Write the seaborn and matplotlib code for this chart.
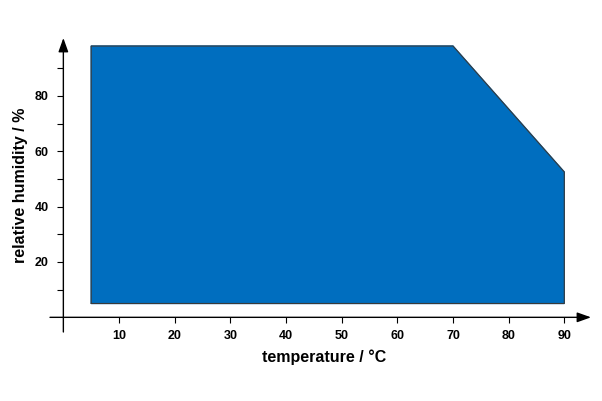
import pandas as pd
import matplotlib
matplotlib.use("Agg")
import matplotlib.pyplot as plt
import seaborn as sns

# operating range corners (temperature in degC, relative humidity in %)
temperature = [5, 5, 70, 90, 90, 5]
humidity = [5, 98, 98, 52.5, 5, 5]

x_ticks = [10, 20, 30, 40, 50, 60, 70, 80, 90]
y_major = [20, 40, 60, 80]
y_minor = [10, 30, 50, 70, 90]

df = pd.DataFrame({"temperature": temperature, "humidity": humidity})

sns.set_theme(style="white")
plt.rcParams["font.family"] = ["Liberation Sans", "DejaVu Sans"]
plt.rcParams["text.color"] = "black"
plt.rcParams["axes.labelcolor"] = "black"
plt.rcParams["xtick.color"] = "black"
plt.rcParams["ytick.color"] = "black"

fig = plt.figure(figsize=(6.02, 4.01), dpi=100)
ax = fig.add_axes([50 / 602, 69 / 401, 541 / 602, 294 / 401])

ax.fill(df["temperature"], df["humidity"], color="#006EBF", zorder=2)
sns.lineplot(data=df, x="temperature", y="humidity", sort=False, estimator=None,
             color="#3a3a3a", linewidth=0.8, ax=ax, zorder=3)

ax.set_xlim(-2.4, 94.8)
ax.set_ylim(-5.3, 100.9)

# axes lines through the origin, with arrow heads
for s in ax.spines.values():
    s.set_color("none")
ax.spines["left"].set_position(("data", 0))
ax.spines["bottom"].set_position(("data", 0))
arrow = dict(arrowstyle="-|>,head_length=0.7,head_width=0.25",
             color="black", lw=1, shrinkA=0, shrinkB=0)
ax.annotate("", xy=(94.8, 0), xytext=(-2.4, 0), arrowprops=arrow)
ax.annotate("", xy=(0, 100.9), xytext=(0, -5.3), arrowprops=arrow)

ax.set_xticks(x_ticks)
ax.set_xticklabels([str(v) for v in x_ticks], fontsize=9, fontweight="bold")
ax.set_yticks(y_major)
ax.set_yticklabels([str(v) for v in y_major], fontsize=9, fontweight="bold")
ax.set_yticks(y_minor, minor=True)
ax.tick_params(axis="x", which="major", direction="out", length=4, width=0.8,
               pad=5, bottom=True)
ax.tick_params(axis="y", which="both", direction="out", length=4.5, width=0.8,
               pad=6, left=True)

ax.set_xlabel("temperature / °C", fontsize=11.5, fontweight="bold")
ax.set_ylabel("relative humidity / %", fontsize=11.5, fontweight="bold")
ax.xaxis.set_label_coords(0.507, -0.085)
ax.yaxis.set_label_coords(-0.055, 0.5)
ax.xaxis.label.set_va("center")
ax.yaxis.label.set_va("center")
ax.grid(False)

fig.savefig("out.png", dpi=100)
